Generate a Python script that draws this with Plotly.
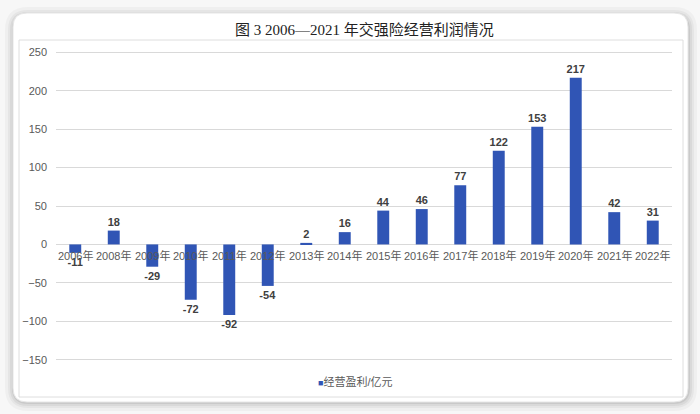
import plotly.graph_objects as go

categories = ["2006年", "2008年", "2009年", "2010年", "2011年", "2012年", "2013年", "2014年",
              "2015年", "2016年", "2017年", "2018年", "2019年", "2020年", "2021年", "2022年"]
profit = [-11, 18, -29, -72, -92, -54, 2, 16, 44, 46, 77, 122, 153, 217, 42, 31]
series_name = "经营盈利/亿元"
title_text = "图 3 2006—2021 年交强险经营利润情况"
y_ticks = [-150, -100, -50, 0, 50, 100, 150, 200, 250]

W, H = 700, 414
ML, MR, MT, MB = 56, 28, 50, 52
PW, PH = W - ML - MR, H - MT - MB


def px(x):
    return (x - ML) / PW


def py(y):
    return (H - MB - y) / PH


def rrect(x0, y0, x1, y1, r):
    return (f"M {px(x0 + r)} {py(y0)} L {px(x1 - r)} {py(y0)} Q {px(x1)} {py(y0)} {px(x1)} {py(y0 + r)} "
            f"L {px(x1)} {py(y1 - r)} Q {px(x1)} {py(y1)} {px(x1 - r)} {py(y1)} "
            f"L {px(x0 + r)} {py(y1)} Q {px(x0)} {py(y1)} {px(x0)} {py(y1 - r)} "
            f"L {px(x0)} {py(y0 + r)} Q {px(x0)} {py(y0)} {px(x0 + r)} {py(y0)} Z")


FONT = "Liberation Sans, Noto Sans CJK SC, sans-serif"
bar_color = "#3055b5"

fig = go.Figure()
fig.add_trace(go.Bar(
    x=categories, y=profit, name=series_name,
    marker=dict(color=bar_color, line=dict(width=0)),
    width=0.31,
    text=[str(v) for v in profit], textposition="outside", constraintext="none",
    textfont=dict(family=FONT, size=11, color="#404040", weight="bold"),
    cliponaxis=False, showlegend=False,
))

shapes = []
for g, op in [(9, 0.03), (6, 0.04), (4, 0.05), (2, 0.07)]:
    shapes.append(dict(type="path", xref="paper", yref="paper",
                       path=rrect(13 - g + 1, 13 - g + 3, 688 + g, 402 + g, 14 + g),
                       fillcolor=f"rgba(0,0,0,{op})", line=dict(width=0), layer="below"))
shapes.append(dict(type="path", xref="paper", yref="paper", path=rrect(13, 13, 688, 402, 14),
                   fillcolor="white", line=dict(color="#e6e6e6", width=1), layer="below"))
shapes.append(dict(type="rect", xref="paper", yref="paper",
                   x0=px(19), x1=px(683), y0=py(40), y1=py(397),
                   fillcolor="rgba(0,0,0,0)", line=dict(color="#dedede", width=1), layer="below"))

annotations = [dict(x=c, y=0, xref="x", yref="y", text=c, showarrow=False,
                    yanchor="top", yshift=-3,
                    font=dict(family=FONT, size=11, color="#595959")) for c in categories]
annotations.append(dict(x=0.5, y=py(29), xref="paper", yref="paper", text=title_text,
                        showarrow=False, xanchor="center", yanchor="middle",
                        font=dict(family="Liberation Serif, Noto Sans CJK SC, serif", size=15,
                                  color="#222222")))
# legend (small square swatch + series name)
annotations.append(dict(x=px(316), y=py(381), xref="paper", yref="paper",
                        text=f"<span style='color:{bar_color};font-size:9px'>■</span>{series_name}",
                        showarrow=False, xanchor="left", yanchor="middle",
                        font=dict(family=FONT, size=11, color="#595959")))

fig.update_layout(
    width=W, height=H,
    margin=dict(l=ML, r=MR, t=MT, b=MB, pad=0),
    paper_bgcolor="#f7f7f7", plot_bgcolor="rgba(0,0,0,0)",
    shapes=shapes, annotations=annotations,
    xaxis=dict(showticklabels=False, showgrid=False, zeroline=False, showline=False,
               ticks="", range=[-0.5, len(categories) - 0.5]),
    yaxis=dict(range=[-153, 253], tickvals=y_ticks, showgrid=True, gridcolor="#d9d9d9",
               gridwidth=1, zeroline=True, zerolinecolor="#d9d9d9", zerolinewidth=1,
               showline=False, ticks="", ticklabelstandoff=8,
               tickfont=dict(family=FONT, size=11, color="#595959")),
    showlegend=False,
)

fig.write_html("out.html", config={"displayModeBar": False},
               post_script="document.body.style.margin='0';document.body.style.overflow='hidden';")
